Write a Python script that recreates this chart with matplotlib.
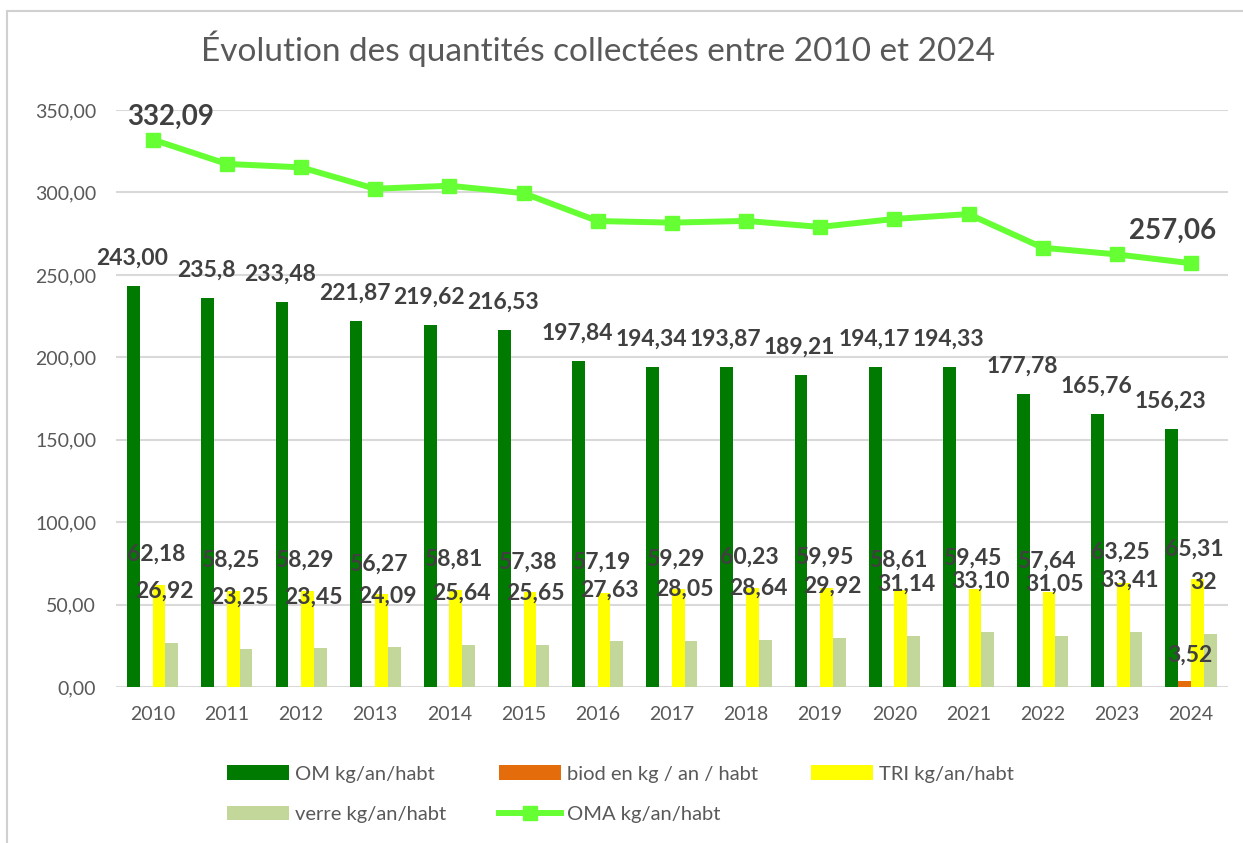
import matplotlib.pyplot as plt
import matplotlib.patches as patches
import numpy as np

plt.rcParams['font.family'] = ['Lato', 'DejaVu Sans']

# données
annees = ['2010', '2011', '2012', '2013', '2014', '2015', '2016', '2017',
          '2018', '2019', '2020', '2021', '2022', '2023', '2024']
om = [243.00, 235.8, 233.48, 221.87, 219.62, 216.53, 197.84, 194.34,
      193.87, 189.21, 194.17, 194.33, 177.78, 165.76, 156.23]
om_txt = ['243,00', '235,8', '233,48', '221,87', '219,62', '216,53', '197,84', '194,34',
          '193,87', '189,21', '194,17', '194,33', '177,78', '165,76', '156,23']
biod = [0, 0, 0, 0, 0, 0, 0, 0, 0, 0, 0, 0, 0, 0, 3.52]
tri = [62.18, 58.25, 58.29, 56.27, 58.81, 57.38, 57.19, 59.29,
       60.23, 59.95, 58.61, 59.45, 57.64, 63.25, 65.31]
verre = [26.92, 23.25, 23.45, 24.09, 25.64, 25.65, 27.63, 28.05,
         28.64, 29.92, 31.14, 33.10, 31.05, 33.41, 32]
verre_txt = ['26,92', '23,25', '23,45', '24,09', '25,64', '25,65', '27,63', '28,05',
             '28,64', '29,92', '31,14', '33,10', '31,05', '33,41', '32']
oma = [332.09, 317.30, 315.22, 302.23, 304.07, 299.56, 282.66, 281.68,
       282.74, 279.08, 283.92, 286.88, 266.47, 262.42, 257.06]

c_om = '#007a00'
c_biod = '#e46c0a'
c_tri = '#ffff00'
c_verre = '#c4d79b'
c_oma = '#66ff33'
c_txt = '#404040'
c_gris = '#595959'

fig = plt.figure(figsize=(12.43, 8.43), dpi=100)
ax = fig.add_axes([0.093, 0.185, 0.895, 0.6845])

x = np.arange(len(annees))
w = 0.172
b_om = ax.bar(x - 1.5 * w, om, w, color=c_om, zorder=2)
b_biod = ax.bar(x - 0.5 * w, biod, w, color=c_biod, zorder=2)
b_tri = ax.bar(x + 0.5 * w, tri, w, color=c_tri, zorder=2)
b_verre = ax.bar(x + 1.5 * w, verre, w, color=c_verre, zorder=2)
l_oma, = ax.plot(x, oma, color=c_oma, lw=4.3, marker='s', markersize=10, zorder=4)

# étiquettes
lab = dict(ha='center', va='center', fontsize=16.5, fontweight='bold', color=c_txt,
           textcoords='offset points', zorder=5)
for i in range(len(annees)):
    ax.annotate(om_txt[i], (x[i] - 1.5 * w, om[i]), xytext=(-1, 20), **lab)
    ax.annotate(f'{tri[i]:.2f}'.replace('.', ','), (x[i] + 0.5 * w, tri[i]),
                xytext=(-2, 22), **lab)
    ax.annotate(verre_txt[i], (x[i] + 1.5 * w, verre[i]), xytext=(-5, 37), **lab)
ax.annotate('3,52', (x[14] - 0.5 * w, biod[14]), xytext=(4, 19), **lab)
ax.annotate('332,09', (x[0], oma[0]), xytext=(13, 16), ha='center', va='center',
            fontsize=20, fontweight='bold', color=c_txt, textcoords='offset points', zorder=5)
ax.annotate('257,06', (x[14], oma[14]), xytext=(-13, 23), ha='center', va='center',
            fontsize=20, fontweight='bold', color=c_txt, textcoords='offset points', zorder=5)

ax.set_xlim(-0.5, len(annees) - 0.5)
ax.set_ylim(0, 350)
yt = np.arange(0, 351, 50)
ax.set_yticks(yt)
ax.set_yticklabels([f'{v:.2f}'.replace('.', ',') for v in yt])
ax.set_xticks(x)
ax.set_xticklabels(annees)
ax.tick_params(axis='both', length=0, labelsize=14, colors=c_gris)
ax.tick_params(axis='x', pad=14)
ax.tick_params(axis='y', pad=14)
ax.grid(axis='y', color='#d9d9d9', lw=1.5, zorder=0)
for s in ax.spines.values():
    s.set_visible(False)

fig.text(0.481, 0.942, 'Évolution des quantités collectées entre 2010 et 2024',
         ha='center', va='center', fontsize=24, color=c_gris)

handles = [b_om, b_verre, b_biod, l_oma, b_tri]
labels = ['OM kg/an/habt', 'verre kg/an/habt', 'biod en kg / an / habt',
          'OMA kg/an/habt', 'TRI kg/an/habt']
fig.legend(handles, labels, ncol=3, loc='center left', bbox_to_anchor=(0.168, 0.058),
           frameon=False, fontsize=14.5, labelcolor=c_gris, handlelength=3.1,
           handleheight=0.7, handletextpad=0.3, columnspacing=2.6, labelspacing=1.15)

# cadre du graphique
fig.patches.append(patches.Rectangle((0.006, -0.01), 1.1, 0.997, transform=fig.transFigure,
                                     fill=False, edgecolor='#d0d0d0', lw=1.5))

fig.savefig('out.png', dpi=100)
